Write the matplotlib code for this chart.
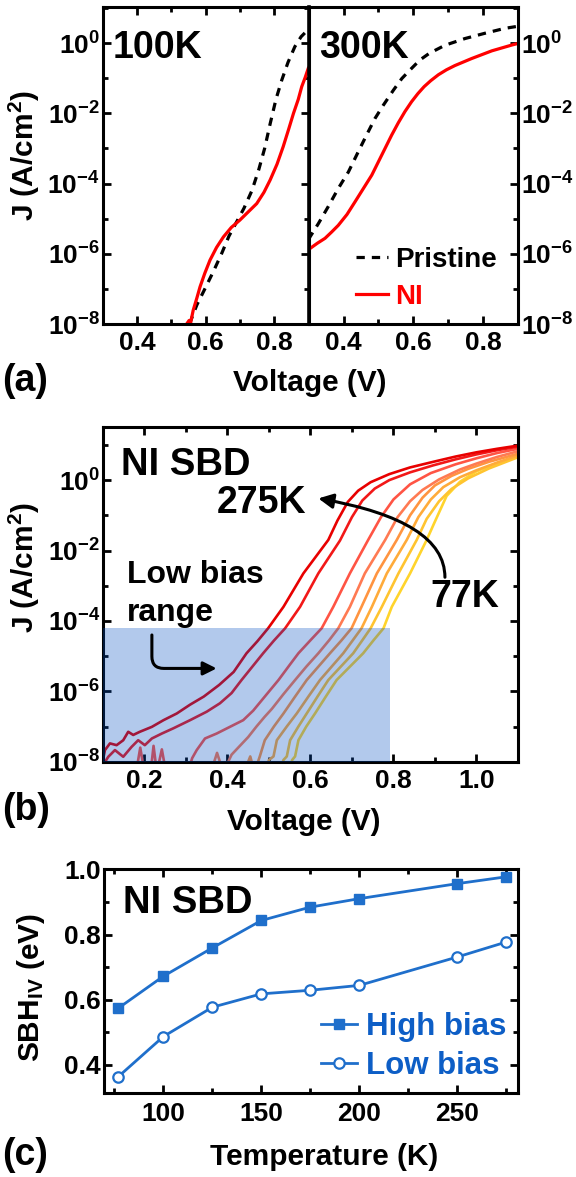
import numpy as np
import matplotlib
matplotlib.use('Agg')
import matplotlib.pyplot as plt
from matplotlib.ticker import FixedLocator, NullFormatter

plt.rcParams['font.family'] = ['Liberation Sans', 'DejaVu Sans']
plt.rcParams['mathtext.fontset'] = 'custom'
plt.rcParams['mathtext.rm'] = 'Liberation Sans:bold'
plt.rcParams['mathtext.bf'] = 'Liberation Sans:bold'
plt.rcParams['mathtext.it'] = 'Liberation Sans:bold:italic'

# ---------------- data ----------------
# (a) 100 K, log10(J) vs V
v_100_pristine = [0.553, 0.575, 0.598, 0.623, 0.647, 0.668, 0.690, 0.712, 0.735, 0.755, 0.772, 0.788,
                  0.805, 0.822, 0.840, 0.860, 0.878, 0.890]
lj_100_pristine = [-8.0, -7.45, -7.0, -6.5, -5.99, -5.5, -5.1, -4.7, -4.2, -3.6, -3.0, -2.3,
                   -1.6, -1.05, -0.55, -0.1, 0.18, 0.30]
v_100_ni = [0.545, 0.552, 0.556, 0.560, 0.564, 0.575, 0.584, 0.598, 0.613, 0.632, 0.652, 0.675, 0.700,
            0.725, 0.749, 0.770, 0.788, 0.808, 0.826, 0.842, 0.856, 0.870, 0.880, 0.890, 0.899]
lj_100_ni = [-8.0, -7.9, -8.0, -7.8, -7.61, -7.25, -6.94, -6.55, -6.18, -5.82, -5.52, -5.25, -5.04,
             -4.8, -4.57, -4.25, -3.90, -3.45, -2.95, -2.45, -2.0, -1.6, -1.24, -0.98, -0.72]
# (a) 300 K
v_300_pristine = [0.300, 0.304, 0.328, 0.356, 0.385, 0.414, 0.442, 0.466, 0.490, 0.514, 0.543, 0.567,
                  0.595, 0.619, 0.646, 0.691, 0.748, 0.805, 0.862, 0.900]
lj_300_pristine = [-5.6, -5.52, -5.14, -4.66, -4.14, -3.67, -3.10, -2.62, -2.15, -1.77, -1.34, -1.01,
                   -0.72, -0.48, -0.29, -0.06, 0.13, 0.28, 0.42, 0.48]
v_300_ni = [0.300, 0.304, 0.325, 0.347, 0.366, 0.385, 0.410, 0.433, 0.457, 0.481, 0.500, 0.519, 0.538,
            0.557, 0.576, 0.595, 0.613, 0.631, 0.650, 0.672, 0.695, 0.719, 0.767, 0.825, 0.884, 0.900]
lj_300_ni = [-5.88, -5.85, -5.70, -5.56, -5.38, -5.19, -4.88, -4.52, -4.14, -3.76, -3.38, -3.00, -2.62,
             -2.27, -1.95, -1.67, -1.44, -1.24, -1.07, -0.90, -0.76, -0.64, -0.44, -0.22, -0.05, -0.01]

# (b) NI SBD, temperature series
temps_b = [275, 250, 200, 175, 150, 125, 100, 77]
colors_b = ['#e80000', '#f21818', '#ff5444', '#ff7a52', '#ff9440', '#ffab3a', '#ffc430', '#ffd42c']
v_b = {
    275: [0.100, 0.105, 0.117, 0.133, 0.149, 0.161, 0.173, 0.189, 0.218, 0.246, 0.278, 0.310, 0.343, 0.380,
          0.415, 0.446, 0.472, 0.498, 0.535, 0.583, 0.643, 0.665, 0.690, 0.715, 0.745, 0.790, 0.840, 0.896,
          0.950, 1.000, 1.050, 1.100],
    250: [0.100, 0.113, 0.129, 0.149, 0.169, 0.185, 0.201, 0.218, 0.242, 0.270, 0.310, 0.350, 0.382, 0.410,
          0.434, 0.460, 0.486, 0.512, 0.539, 0.575, 0.619, 0.671, 0.700, 0.725, 0.755, 0.790, 0.840, 0.896,
          0.950, 1.000, 1.050, 1.100],
    200: [0.180, 0.190, 0.200, 0.215, 0.222, 0.230, 0.242, 0.252, 0.305, 0.315, 0.326, 0.346, 0.374, 0.406,
          0.438, 0.462, 0.490, 0.523, 0.550, 0.571, 0.600, 0.627, 0.655, 0.695, 0.739, 0.770, 0.800, 0.840,
          0.890, 0.950, 1.000, 1.050, 1.100],
    175: [0.360, 0.375, 0.390, 0.410, 0.430, 0.450, 0.470, 0.490, 0.507, 0.535, 0.563, 0.590, 0.619, 0.645,
          0.667, 0.695, 0.731, 0.780, 0.810, 0.840, 0.870, 0.910, 0.960, 1.000, 1.050, 1.100],
    150: [0.440, 0.455, 0.465, 0.478, 0.490, 0.512, 0.535, 0.563, 0.591, 0.619, 0.647, 0.675, 0.699, 0.723,
          0.760, 0.808, 0.840, 0.870, 0.900, 0.940, 0.980, 1.030, 1.100],
    125: [0.490, 0.500, 0.511, 0.519, 0.543, 0.567, 0.595, 0.623, 0.651, 0.679, 0.702, 0.723, 0.748, 0.784,
          0.832, 0.860, 0.890, 0.920, 0.960, 1.000, 1.050, 1.100],
    100: [0.525, 0.535, 0.543, 0.551, 0.571, 0.591, 0.617, 0.643, 0.673, 0.703, 0.725, 0.745, 0.772, 0.812,
          0.856, 0.880, 0.910, 0.940, 0.980, 1.030, 1.100],
    77: [0.548, 0.556, 0.563, 0.571, 0.590, 0.611, 0.637, 0.663, 0.695, 0.727, 0.752, 0.776, 0.796, 0.840,
         0.880, 0.899, 0.928, 0.960, 1.000, 1.050, 1.100],
}
lj_b = {
    275: [-7.95, -7.67, -7.48, -7.53, -7.39, -7.15, -7.24, -7.15, -7.01, -6.82, -6.63, -6.38, -6.15, -5.82,
          -5.45, -4.92, -4.58, -4.21, -3.60, -2.65, -1.70, -1.15, -0.62, -0.30, -0.06, 0.17, 0.36, 0.52,
          0.67, 0.79, 0.89, 0.98],
    250: [-8.10, -7.86, -7.67, -7.86, -7.58, -7.39, -7.53, -7.34, -7.20, -7.05, -6.82, -6.58, -6.34, -6.05,
          -5.68, -5.30, -4.92, -4.56, -4.21, -3.60, -2.65, -1.72, -1.05, -0.58, -0.24, 0.00, 0.22, 0.42,
          0.59, 0.73, 0.85, 0.95],
    200: [-8.3, -7.6, -8.3, -8.3, -7.55, -8.3, -7.65, -8.3, -8.3, -7.9, -7.67, -7.34, -7.20, -7.01,
          -6.82, -6.55, -6.15, -5.68, -5.25, -4.92, -4.55, -4.21, -3.60, -2.65, -1.70, -1.05, -0.55, -0.12,
          0.20, 0.45, 0.62, 0.77, 0.89],
    175: [-8.3, -7.75, -8.3, -7.80, -7.55, -7.30, -7.00, -6.72, -6.50, -6.08, -5.68, -5.30, -4.92, -4.55,
          -4.21, -3.60, -2.65, -1.70, -1.05, -0.60, -0.28, 0.02, 0.30, 0.47, 0.66, 0.82],
    150: [-8.3, -7.85, -8.3, -7.85, -7.39, -7.00, -6.63, -6.15, -5.68, -5.30, -4.92, -4.55, -4.21, -3.60,
          -2.65, -1.70, -1.00, -0.50, -0.15, 0.12, 0.32, 0.52, 0.75],
    125: [-8.3, -7.95, -7.85, -7.39, -7.00, -6.63, -6.15, -5.68, -5.30, -4.92, -4.55, -4.21, -3.60, -2.65,
          -1.70, -1.05, -0.55, -0.20, 0.08, 0.28, 0.50, 0.70],
    100: [-8.3, -7.95, -7.85, -7.39, -7.00, -6.63, -6.15, -5.68, -5.30, -4.92, -4.55, -4.21, -3.60, -2.65,
          -1.70, -1.10, -0.60, -0.25, 0.05, 0.33, 0.65],
    77: [-8.3, -7.95, -7.85, -7.39, -7.00, -6.63, -6.15, -5.68, -5.30, -4.92, -4.55, -4.21, -3.60, -2.65,
         -1.70, -1.20, -0.45, -0.05, 0.25, 0.48, 0.68],
}
low_bias_v = 0.792      # right edge of shaded low-bias box
low_bias_j = 10 ** -4.21  # top of shaded box

# (c) barrier height vs temperature
temps_c = [77, 100, 125, 150, 175, 200, 250, 275]
sbh_high = [0.574, 0.672, 0.759, 0.843, 0.884, 0.910, 0.956, 0.977]
sbh_low = [0.364, 0.487, 0.577, 0.618, 0.629, 0.644, 0.731, 0.777]

decade_ticks = [1e-8, 1e-6, 1e-4, 1e-2, 1e0]
decade_labels = [r'$\mathbf{10^{-8}}$', r'$\mathbf{10^{-6}}$', r'$\mathbf{10^{-4}}$',
                 r'$\mathbf{10^{-2}}$', r'$\mathbf{10^{0}}$']
odd_decades = [1e-7, 1e-5, 1e-3, 1e-1, 1e1]

# ---------------- figure ----------------
W, H = 576, 1177
fig = plt.figure(figsize=(W / 100, H / 100), dpi=100)


def px(x0, y0, x1, y1):
    return [x0 / W, 1 - y1 / H, (x1 - x0) / W, (y1 - y0) / H]


def fpos(x, y):
    return x / W, 1 - y / H


TICK = 19
LAB = 21.5
SW = 2.2


def style(ax):
    for s in ax.spines.values():
        s.set_linewidth(SW)
    ax.tick_params(which='both', direction='in', width=2.0, labelsize=TICK)
    ax.tick_params(which='major', length=5.5)
    ax.tick_params(which='minor', length=3.5)
    for lab in ax.get_xticklabels() + ax.get_yticklabels():
        lab.set_fontweight('bold')


# ----- (a) -----
ax_l = fig.add_axes(px(102.5, 7.3, 308.6, 324))
ax_r = fig.add_axes(px(308.6, 7.3, 518, 324))
ax_r.patch.set_alpha(0)
ax_l.plot(v_100_pristine, 10 ** np.array(lj_100_pristine), color='black', lw=2.3, dashes=(2.6, 2.2))
ax_l.plot(v_100_ni, 10 ** np.array(lj_100_ni), color='#ff0000', lw=2.3)
ax_r.plot(v_300_pristine, 10 ** np.array(lj_300_pristine), color='black', lw=2.3, dashes=(2.6, 2.2),
          label='Pristine')
ax_r.plot(v_300_ni, 10 ** np.array(lj_300_ni), color='#ff0000', lw=2.3, label='NI')
for ax in (ax_l, ax_r):
    ax.set_yscale('log')
    ax.set_xlim(0.3, 0.9)
    ax.set_ylim(1e-8, 10 ** 1.02)
    ax.set_yticks(decade_ticks)
    ax.set_yticklabels(decade_labels)
    ax.yaxis.set_minor_locator(FixedLocator(odd_decades))
    ax.yaxis.set_minor_formatter(NullFormatter())
    ax.set_xticks([0.4, 0.6, 0.8])
    ax.set_xticklabels(['0.4', '0.6', '0.8'])
    ax.xaxis.set_minor_locator(FixedLocator([0.3, 0.5, 0.7, 0.9]))
    style(ax)
    ax.tick_params(axis='x', which='both', top=True, pad=5)
ax_l.tick_params(axis='y', which='both', left=True, right=True, labelleft=True, labelright=False, pad=2)
ax_r.tick_params(axis='y', which='both', left=False, right=True, labelleft=False, labelright=True, pad=2)
ax_r.spines['left'].set_linewidth(2.6)

fig.text(*fpos(113, 48), '100K', fontsize=27, fontweight='bold', va='center', ha='left')
fig.text(*fpos(319, 48), '300K', fontsize=27, fontweight='bold', va='center', ha='left')
leg = ax_r.legend(loc='upper left', bbox_to_anchor=fpos(356, 247), bbox_transform=fig.transFigure,
                  frameon=False, handlelength=1.15, handletextpad=0.25, labelspacing=0.38,
                  borderpad=0, borderaxespad=0, prop={'weight': 'bold', 'size': 20})
for t, c in zip(leg.get_texts(), ['black', '#ff0000']):
    t.set_color(c)
fig.text(*fpos(24, 155), 'J (A/cm$^{2}$)', rotation=90, fontsize=LAB, fontweight='bold',
         ha='center', va='center')
fig.text(*fpos(310, 383), 'Voltage (V)', fontsize=LAB, fontweight='bold', ha='center', va='center')
fig.text(*fpos(2, 381), '(a)', fontsize=27, fontweight='bold', ha='left', va='center')

# ----- (b) -----
ax_b = fig.add_axes(px(102.9, 427.3, 518, 761.7))
for t, c in zip(temps_b[::-1], colors_b[::-1]):
    ax_b.plot(v_b[t], 10 ** np.array(lj_b[t]), color=c, lw=1.9, zorder=2)
ax_b.fill_between([0.1, low_bias_v], 1e-8, low_bias_j, color=(0.0, 0.3, 0.76), alpha=0.3,
                  lw=0, zorder=3)
ax_b.set_yscale('log')
ax_b.set_xlim(0.1, 1.1)
ax_b.set_ylim(1e-8, 10 ** 1.5)
ax_b.set_yticks(decade_ticks)
ax_b.set_yticklabels(decade_labels)
ax_b.yaxis.set_minor_locator(FixedLocator(odd_decades))
ax_b.yaxis.set_minor_formatter(NullFormatter())
ax_b.set_xticks([0.2, 0.4, 0.6, 0.8, 1.0])
ax_b.set_xticklabels(['0.2', '0.4', '0.6', '0.8', '1.0'])
ax_b.xaxis.set_minor_locator(FixedLocator([0.3, 0.5, 0.7, 0.9, 1.1]))
style(ax_b)
ax_b.tick_params(which='both', top=True, right=True)
ax_b.tick_params(axis='x', pad=5)
ax_b.tick_params(axis='y', pad=2)

ax_b.annotate('', xy=(0.619, 10 ** -0.52), xytext=(0.924, 10 ** -2.76),
              arrowprops=dict(arrowstyle='-|>', color='black', lw=2.2, mutation_scale=22,
                              connectionstyle='angle3,angleA=90,angleB=-10', shrinkA=0, shrinkB=0),
              zorder=5)
ax_b.annotate('', xy=(0.374, 10 ** -5.35), xytext=(0.218, 10 ** -4.40),
              arrowprops=dict(arrowstyle='-|>', color='black', lw=2.2, mutation_scale=20,
                              connectionstyle='angle,angleA=90,angleB=0,rad=12', shrinkA=0, shrinkB=0),
              zorder=5)
fig.text(*fpos(121, 465), 'NI SBD', fontsize=27.5, fontweight='bold', va='center', ha='left')
fig.text(*fpos(217, 503), '275K', fontsize=27, fontweight='bold', va='center', ha='left')
fig.text(*fpos(430, 597), '77K', fontsize=27, fontweight='bold', va='center', ha='left')
fig.text(*fpos(127, 575), 'Low bias', fontsize=23, fontweight='bold', va='center', ha='left')
fig.text(*fpos(127, 613), 'range', fontsize=23, fontweight='bold', va='center', ha='left')
fig.text(*fpos(24, 567), 'J (A/cm$^{2}$)', rotation=90, fontsize=LAB, fontweight='bold',
         ha='center', va='center')
fig.text(*fpos(304, 822), 'Voltage (V)', fontsize=LAB, fontweight='bold', ha='center', va='center')
fig.text(*fpos(2, 810), '(b)', fontsize=27, fontweight='bold', ha='left', va='center')

# ----- (c) -----
ax_c = fig.add_axes(px(103.6, 869.3, 518, 1093.3))
blue = '#1f6fcb'
ax_c.plot(temps_c, sbh_high, color=blue, lw=2.0, marker='s', ms=7.5, mfc=blue, mec=blue,
          label='High bias')
ax_c.plot(temps_c, sbh_low, color=blue, lw=2.0, marker='o', ms=7.5, mfc='white', mec=blue, mew=1.6,
          label='Low bias')
ax_c.set_xlim(69.5, 281)
ax_c.set_ylim(0.313, 1.0)
ax_c.set_xticks([100, 150, 200, 250])
ax_c.set_xticklabels(['100', '150', '200', '250'])
ax_c.xaxis.set_minor_locator(FixedLocator([75, 125, 175, 225, 275]))
ax_c.set_yticks([0.4, 0.6, 0.8, 1.0])
ax_c.set_yticklabels(['0.4', '0.6', '0.8', '1.0'])
ax_c.yaxis.set_minor_locator(FixedLocator([0.5, 0.7, 0.9]))
style(ax_c)
ax_c.tick_params(which='both', top=True, right=True)
ax_c.tick_params(axis='x', pad=6)
ax_c.tick_params(axis='y', pad=2)
leg_c = ax_c.legend(loc='upper left', bbox_to_anchor=fpos(321, 1012), bbox_transform=fig.transFigure,
                    frameon=False, handlelength=1.15, handletextpad=0.28, labelspacing=0.3,
                    borderpad=0, borderaxespad=0, prop={'weight': 'bold', 'size': 22.5})
for t in leg_c.get_texts():
    t.set_color('#0d5ec6')
fig.text(*fpos(123, 903), 'NI SBD', fontsize=27.5, fontweight='bold', va='center', ha='left')
fig.text(*fpos(31, 987), 'SBH$_{\\mathbf{IV}}$ (eV)', rotation=90, fontsize=LAB, fontweight='bold',
         ha='center', va='center')
fig.text(*fpos(324, 1157), 'Temperature (K)', fontsize=LAB, fontweight='bold', ha='center', va='center')
fig.text(*fpos(2, 1155), '(c)', fontsize=27, fontweight='bold', ha='left', va='center')

fig.savefig('out.png', dpi=100)
